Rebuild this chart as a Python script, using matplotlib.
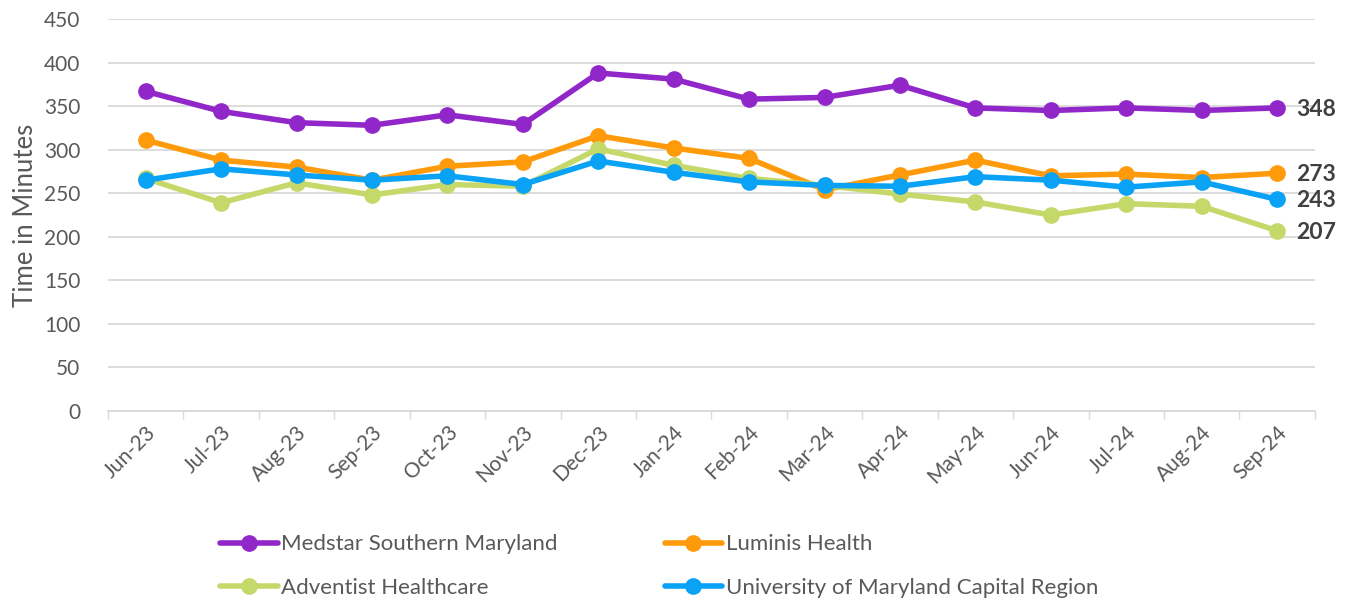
import numpy as np
import matplotlib
matplotlib.use("Agg")
import matplotlib.pyplot as plt

months = ["Jun-23", "Jul-23", "Aug-23", "Sep-23", "Oct-23", "Nov-23", "Dec-23", "Jan-24",
          "Feb-24", "Mar-24", "Apr-24", "May-24", "Jun-24", "Jul-24", "Aug-24", "Sep-24"]

medstar = [367, 344, 331, 328, 340, 329, 388, 381, 358, 360, 374, 348, 345, 348, 345, 348]
luminis = [311, 288, 280, 265, 281, 286, 316, 302, 290, 254, 271, 288, 270, 272, 268, 273]
adventist = [267, 239, 262, 248, 260, 258, 301, 282, 267, 259, 249, 240, 225, 238, 235, 207]
umd = [265, 278, 271, 265, 270, 260, 287, 274, 263, 259, 258, 269, 265, 257, 263, 243]

series = [
    ("Medstar Southern Maryland", medstar, "#9127c9"),
    ("Luminis Health", luminis, "#ff9a0a"),
    ("Adventist Healthcare", adventist, "#c5d96a"),
    ("University of Maryland Capital Region", umd, "#0aa2f5"),
]

plt.rcParams['font.family'] = ['Lato', 'DejaVu Sans']
gray = "#595959"

fig = plt.figure(figsize=(13.53, 5.98), dpi=100)
ax = fig.add_axes([0.0798, 0.3127, 0.892, 0.6555])

x = np.arange(len(months))
# excel order: later series on top
for name, vals, col in series:
    ax.plot(x, vals, color=col, lw=4, marker="o", ms=11, label=name, solid_capstyle="round")

# end labels
for name, vals, col in series:
    ax.annotate(str(vals[-1]), (x[-1], vals[-1]), xytext=(14, -1), textcoords="offset points",
                va="center", ha="left", fontsize=16.5, fontweight="bold", color="#404040")

ax.set_xlim(-0.5, len(months) - 0.5)
ax.set_ylim(0, 450)
ax.set_yticks(range(0, 451, 50))
ax.set_xticks(x)
ax.set_xticklabels(months, rotation=45, ha="right", rotation_mode="anchor")
ax.set_xticks(np.arange(-0.5, len(months), 1), minor=True)
ax.tick_params(axis="x", which="major", length=0, labelsize=15, labelcolor=gray, pad=8)
ax.tick_params(axis="x", which="minor", length=6, color="#d9d9d9", width=1)
ax.tick_params(axis="y", length=0, labelsize=15, labelcolor=gray, pad=20)
ax.set_ylabel("Time in Minutes", fontsize=18.5, color=gray, labelpad=4)

ax.grid(axis="y", color="#d9d9d9", lw=1.3)
ax.set_axisbelow(True)
for s in ["top", "right", "left"]:
    ax.spines[s].set_visible(False)
ax.spines["bottom"].set_color("#d9d9d9")
ax.spines["bottom"].set_linewidth(1.3)

handles, labels = ax.get_legend_handles_labels()
order = [0, 2, 1, 3]
leg = fig.legend([handles[i] for i in order], [labels[i] for i in order],
                 loc="upper left", bbox_to_anchor=(0.148, 0.14), ncol=2, frameon=False,
                 fontsize=16, handlelength=2.6, handletextpad=0.15, columnspacing=4.8,
                 labelspacing=1.05, labelcolor=gray)

fig.savefig("out.png", dpi=100)
